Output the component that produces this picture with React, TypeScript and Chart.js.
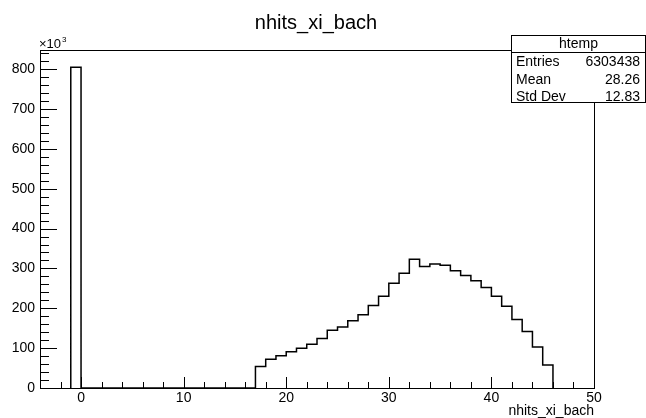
import React, { useEffect, useRef } from "react";
import { Chart, registerables } from "chart.js";

Chart.register(...registerables);

// ---- data ----
const histTitle = "nhits_xi_bach";
const xAxisTitle = "nhits_xi_bach";
const statsName = "htemp";
const statsLabels = ["Entries", "Mean", "Std Dev"];
const statsValues = ["6303438", "28.26", "12.83"];

const firstBinLow = -1;
const binWidth = 1;
// counts for bins [-1,0), [0,1), ... [45,46)
const binCounts = [
  805000, // -1
  0, 0, 0, 0, 0, 0, 0, 0, 0, 0, 0, 0, 0, 0, 0, 0, 0, // 0..16
  54000, 72000, 81000, 91000, 100000, 110000, 124000, 145000, 153000, 169000, // 17..26
  184000, 207000, 230000, 263000, 288000, 323000, 305000, 311000, 308000, 294000, // 27..36
  282000, 269000, 252000, 230000, 205000, 172000, 142000, 103000, 58000, // 37..45
];

const xMin = -4;
const xMax = 50;
const xMajorStep = 10;
const xMinorStep = 2;
const yMin = 0;
const yMax = 848000;
const yTickValues = [0, 100000, 200000, 300000, 400000, 500000, 600000, 700000, 800000];
const yMajorStep = 100000;
const yMinorStep = 20000;
const yScaleFactor = 1000;
const yExponentBase = "\u00d710";
const yExponentPower = "3";

const FONT = '"Liberation Sans", Arial, Helvetica, sans-serif';

function buildPoints() {
  const pts: { x: number; y: number }[] = [{ x: firstBinLow, y: 0 }];
  binCounts.forEach((c, i) => pts.push({ x: firstBinLow + i * binWidth, y: c }));
  pts.push({ x: firstBinLow + binCounts.length * binWidth, y: 0 });
  return pts;
}

const rootPlugin = {
  id: "rootStyle",
  afterDatasetsDraw(chart: any) {
    const { ctx, chartArea: a, scales } = chart;
    const xs = scales.x;
    const ys = scales.y;
    ctx.save();
    ctx.strokeStyle = "#000";
    ctx.lineWidth = 1;
    ctx.beginPath();
    // x ticks (inside)
    const startX = Math.ceil(xMin / xMinorStep) * xMinorStep;
    for (let v = startX; v <= xMax + 1e-9; v += xMinorStep) {
      const major = Math.abs(v % xMajorStep) < 1e-9;
      const len = major ? 11 : 6;
      const px = Math.round(xs.getPixelForValue(v)) + 0.5;
      ctx.moveTo(px, a.bottom);
      ctx.lineTo(px, a.bottom - len);
    }
    // y ticks (inside)
    for (let v = yMin; v <= yMax + 1e-9; v += yMinorStep) {
      const major = Math.abs(v % yMajorStep) < 1e-9;
      const len = major ? 17 : 9;
      const py = Math.round(ys.getPixelForValue(v)) + 0.5;
      ctx.moveTo(a.left, py);
      ctx.lineTo(a.left + len, py);
    }
    ctx.stroke();
    // frame
    ctx.strokeRect(
      Math.round(a.left) + 0.5,
      Math.round(a.top) + 0.5,
      Math.round(a.right - a.left),
      Math.round(a.bottom - a.top)
    );
    ctx.restore();
  },
  afterDraw(chart: any) {
    const { ctx, chartArea: a } = chart;
    ctx.save();
    ctx.fillStyle = "#000";
    // main title
    ctx.font = `20px ${FONT}`;
    ctx.textAlign = "center";
    ctx.textBaseline = "alphabetic";
    ctx.fillText(histTitle, 316, 29);
    // exponent label
    ctx.textAlign = "left";
    ctx.font = `13px ${FONT}`;
    ctx.fillText(yExponentBase, a.left - 1, 48);
    const w = ctx.measureText(yExponentBase).width;
    ctx.font = `8px ${FONT}`;
    ctx.fillText(yExponentPower, a.left - 1 + w + 1, 42);
    // stats box
    const bx = 511.5, by = 35.5, bw = 134, bh = 67;
    ctx.fillStyle = "#fff";
    ctx.fillRect(bx, by, bw, bh);
    ctx.strokeStyle = "#000";
    ctx.lineWidth = 1;
    ctx.strokeRect(bx, by, bw, bh);
    ctx.beginPath();
    ctx.moveTo(bx, 52.5);
    ctx.lineTo(bx + bw, 52.5);
    ctx.stroke();
    ctx.fillStyle = "#000";
    ctx.font = `14px ${FONT}`;
    ctx.textAlign = "center";
    ctx.fillText(statsName, bx + bw / 2, 48);
    const rowBase = [66, 83.5, 101];
    statsLabels.forEach((lab, i) => {
      ctx.textAlign = "left";
      ctx.fillText(lab, 516, rowBase[i]);
      ctx.textAlign = "right";
      ctx.fillText(statsValues[i], 640, rowBase[i]);
    });
    ctx.restore();
  },
};

export default function App() {
  const ref = useRef<HTMLCanvasElement | null>(null);
  useEffect(() => {
    if (!ref.current) return;
    const chart = new Chart(ref.current, {
      type: "line",
      data: {
        datasets: [
          {
            label: histTitle,
            data: buildPoints(),
            stepped: "before",
            borderColor: "#000",
            borderWidth: 1.5,
            borderJoinStyle: "miter",
            pointRadius: 0,
            fill: false,
            tension: 0,
          } as any,
        ],
      },
      options: {
        animation: false,
        responsive: false,
        devicePixelRatio: 1,
        layout: { padding: { top: 50, right: 52, left: 0, bottom: 0 } },
        plugins: {
          legend: { display: false },
          title: { display: false },
          tooltip: { enabled: false },
        },
        scales: {
          x: {
            type: "linear",
            min: xMin,
            max: xMax,
            grid: { display: false, drawTicks: false },
            border: { display: false },
            ticks: {
              stepSize: xMajorStep,
              includeBounds: false,
              padding: 2,
              color: "#000",
              font: { family: FONT, size: 14 },
              maxRotation: 0,
              autoSkip: false,
            },
            title: {
              display: true,
              text: xAxisTitle,
              align: "end",
              color: "#000",
              font: { family: FONT, size: 14, lineHeight: 1 },
              padding: 0,
            },
            afterFit: (s: any) => {
              s.height = 30;
            },
          },
          y: {
            type: "linear",
            min: yMin,
            max: yMax,
            grid: { display: false, drawTicks: false },
            border: { display: false },
            afterBuildTicks: (s: any) => {
              s.ticks = yTickValues.map((v) => ({ value: v }));
            },
            ticks: {
              padding: 5,
              color: "#000",
              font: { family: FONT, size: 14 },
              autoSkip: false,
              callback: (v: any) => String(Number(v) / yScaleFactor),
            },
            afterFit: (s: any) => {
              s.width = 40;
            },
          },
        },
      } as any,
      plugins: [rootPlugin],
    });
    return () => chart.destroy();
  }, []);
  return (
    <div style={{ position: "fixed", left: 0, top: 0, width: 646, height: 418, background: "#fff" }}>
      <canvas ref={ref} width={646} height={418} style={{ display: "block", width: 646, height: 418 }} />
    </div>
  );
}
